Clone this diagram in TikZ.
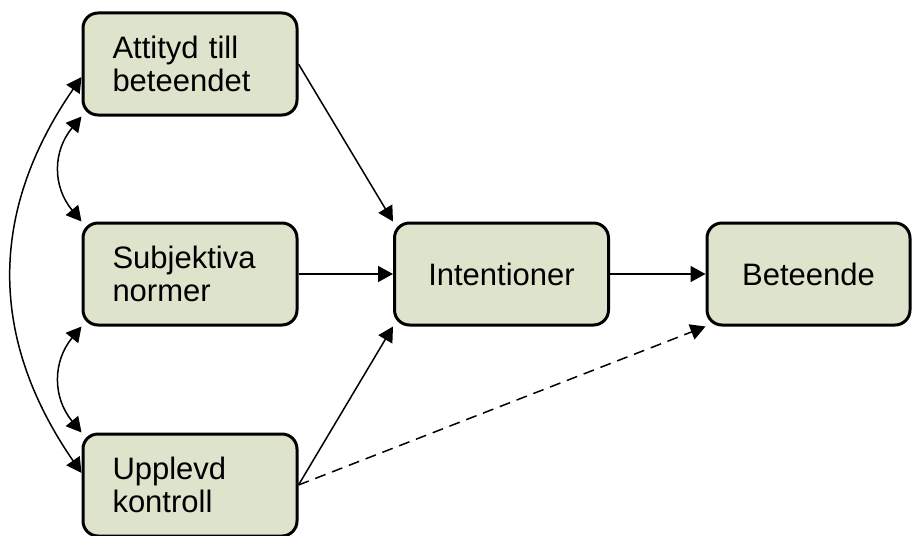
\documentclass[tikz,border=0pt]{standalone}
\usepackage{fontspec}
\setmainfont{Liberation Sans}
\usetikzlibrary{arrows.meta}
\definecolor{boxfill}{RGB}{222,227,204}
\begin{document}
\begin{tikzpicture}[x=1pt,y=1pt,
  box/.style={draw=black, line width=3pt, fill=boxfill, rounded corners=15pt,
    minimum height=102pt, inner sep=0pt,
    font=\fontsize{31pt}{33pt}\selectfont},
  leftbox/.style={box, minimum width=214pt, text width=155pt, align=left},
  link/.style={line width=1.5pt, -{Triangle[length=15pt,width=16pt]}},
  twoway/.style={line width=1.5pt, {Triangle[length=15pt,width=16pt]}-{Triangle[length=15pt,width=16pt]}}]
\useasboundingbox (0,0) rectangle (912,-535);

% factor boxes
\node[leftbox] (att) at (190,-64) {Attityd till\\beteendet};
\node[leftbox] (sub) at (190,-274) {Subjektiva\\normer};
\node[leftbox] (upp) at (190,-485) {Upplevd\\kontroll};
\node[box, minimum width=214pt] (int) at (501.5,-274) {Intentioner};
\node[box, minimum width=203pt] (bet) at (808.5,-274) {Beteende};

% direct paths
\draw[link] (att.east) -- (int.north west);
\draw[link] (sub.east) -- (int.west);
\draw[link] (upp.east) -- (int.south west);
\draw[link] (int.east) -- (bet.west);
\draw[link, dash pattern=on 11pt off 7pt] (upp.east) -- (bet.south west);

% correlations between the factors
\draw[twoway] ([yshift=-13pt]att.west) .. controls +(-93,-135) and +(-93,135) .. ([yshift=12pt]upp.west);
\draw[twoway] (att.south west) .. controls +(-29,-35) and +(-29,35) .. (sub.north west);
\draw[twoway] (sub.south west) .. controls +(-29,-35) and +(-29,35) .. (upp.north west);
\end{tikzpicture}
\end{document}
